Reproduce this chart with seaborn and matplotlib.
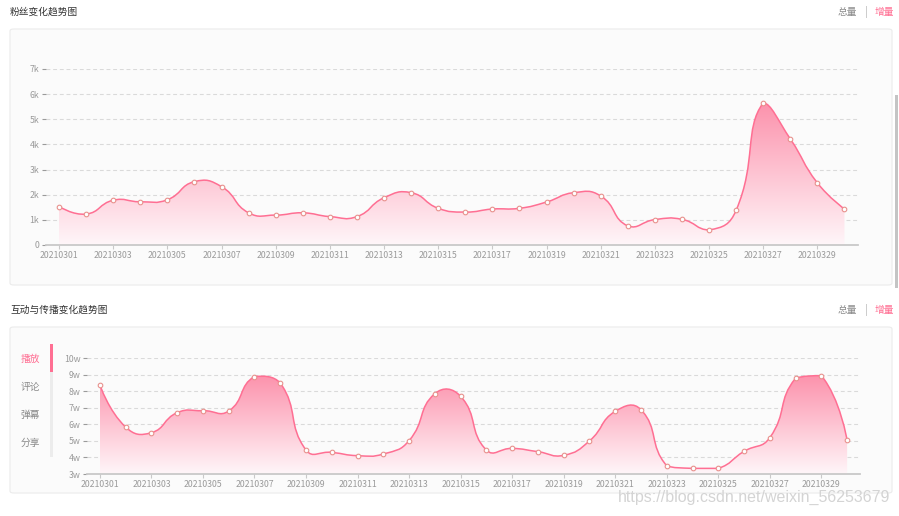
import numpy as np
import pandas as pd
import matplotlib
matplotlib.use("Agg")
import matplotlib.pyplot as plt
import seaborn as sns
from matplotlib.path import Path
from matplotlib.patches import PathPatch, FancyBboxPatch, Rectangle

# ---------------- data ----------------
dates = ["20210301", "20210302", "20210303", "20210304", "20210305", "20210306",
         "20210307", "20210308", "20210309", "20210310", "20210311", "20210312",
         "20210313", "20210314", "20210315", "20210316", "20210317", "20210318",
         "20210319", "20210320", "20210321", "20210322", "20210323", "20210324",
         "20210325", "20210326", "20210327", "20210328", "20210329", "20210330"]

fans = [1530, 1230, 1780, 1720, 1800, 2520, 2320, 1280, 1190, 1280,
        1130, 1130, 1880, 2080, 1460, 1310, 1430, 1460, 1710, 2080,
        1950, 760, 1010, 1020, 600, 1380, 5650, 4220, 2470, 1430]

plays = [83900, 58400, 55000, 67100, 68300, 68100, 88900, 85100, 44500, 43100,
         41100, 42100, 50200, 78600, 77000, 44500, 45500, 43500, 41300, 50000,
         67900, 68900, 35000, 33400, 33400, 43700, 52000, 87900, 89500, 50400]

fans_ticks = [0, 1000, 2000, 3000, 4000, 5000, 6000, 7000]
fans_tick_labels = ["0", "1k", "2k", "3k", "4k", "5k", "6k", "7k"]
plays_ticks = [30000, 40000, 50000, 60000, 70000, 80000, 90000, 100000]
plays_tick_labels = ["3w", "4w", "5w", "6w", "7w", "8w", "9w", "10w"]

tabs = ["播放", "评论", "弹幕", "分享"]

# ---------------- style ----------------
sns.set_theme(style="white")
plt.rcParams["font.family"] = ["Noto Sans CJK SC", "DejaVu Sans"]

W, H = 899, 516
fig = plt.figure(figsize=(W / 100, H / 100), dpi=100)
fig.patch.set_facecolor("white")

PINK = "#ff6f93"
GRAY_TXT = "#9a9a9a"
GRID = "#dadada"
AXIS = "#c9c9c9"


def fx(x):
    return x / W


def fy(y):
    return 1 - y / H


def panel(x0, y0, x1, y1):
    p = FancyBboxPatch((fx(x0), fy(y1)), fx(x1) - fx(x0), fy(y0) - fy(y1),
                       boxstyle="round,pad=0,rounding_size=0.004",
                       transform=fig.transFigure, facecolor="#fbfbfb",
                       edgecolor="#ebebeb", linewidth=0.8, zorder=-10)
    fig.patches.append(p)


def header(title, y):
    fig.text(fx(10), fy(y), title, fontsize=7, color="#333333", va="center", ha="left")
    fig.text(fx(857), fy(y), "总量", fontsize=7, color="#8a8a8a", va="center", ha="right")
    fig.text(fx(866), fy(y), "|", fontsize=7, color="#b0b0b0", va="center", ha="center")
    fig.text(fx(875), fy(y), "增量", fontsize=7, color=PINK, va="center", ha="left")


def smooth_path(ax, xs, ys, smooth=0.5):
    """Bezier smoothing, control points constrained to the points' bounding box."""
    pts = ax.transData.transform(np.column_stack([xs, ys]))
    lo = pts.min(axis=0)
    hi = pts.max(axis=0)
    n = len(pts)
    verts = [pts[0]]
    codes = [Path.MOVETO]
    cp0 = pts[0].copy()
    for i in range(1, n):
        cur = pts[i]
        prev = pts[i - 1]
        if i == n - 1:
            cp1 = cur.copy()
            v = np.zeros(2)
            r = 0.5
        else:
            nxt = pts[i + 1]
            v = nxt - prev
            lp = np.hypot(*(cur - prev))
            ln = np.hypot(*(nxt - cur))
            r = ln / (ln + lp)
            cp1 = cur - v * smooth * (1 - r)
        cp0c = np.clip(cp0, lo, hi)
        cp1c = np.clip(cp1, lo, hi)
        verts += [cp0c, cp1c, cur]
        codes += [Path.CURVE4] * 3
        cp0 = cur + v * smooth * r
    inv = ax.transData.inverted()
    verts = inv.transform(np.array(verts))
    return verts, codes


def chart(ax, values, yticks, ylabels, ylim):
    xs = np.arange(len(dates))
    ax.set_xlim(-0.5, len(dates) - 0.5)
    ax.set_ylim(*ylim)
    ax.set_facecolor("none")
    for s in ["top", "right", "left"]:
        ax.spines[s].set_visible(False)
    ax.spines["bottom"].set_color(AXIS)
    ax.spines["bottom"].set_linewidth(1.3)

    for t in yticks[1:]:
        ax.axhline(t, color=GRID, lw=0.8, ls=(0, (3.5, 2.5)), zorder=0.5)

    verts, codes = smooth_path(ax, xs, values)
    base = ylim[0]
    top = verts[:, 1].max()
    fill_verts = np.vstack([verts, [[xs[-1], base], [xs[0], base], [xs[0], base]]])
    fill_codes = codes + [Path.LINETO, Path.LINETO, Path.CLOSEPOLY]
    clip = PathPatch(Path(fill_verts, fill_codes), transform=ax.transData,
                     facecolor="none", edgecolor="none")
    ax.add_patch(clip)

    c_top = np.array([252, 146, 172]) / 255
    c_bot = np.array([255, 246, 249]) / 255
    t = np.linspace(0, 1, 256)[:, None]
    grad = (c_bot[None, :] * (1 - t) + c_top[None, :] * t)[:, None, :]
    im = ax.imshow(grad, extent=[xs[0], xs[-1], base, top], origin="lower",
                   aspect="auto", zorder=1, interpolation="bilinear")
    im.set_clip_path(clip)

    ax.add_patch(PathPatch(Path(verts, codes), facecolor="none", edgecolor=PINK,
                           lw=1.1, zorder=2))

    df = pd.DataFrame({"x": xs, "y": values})
    sns.scatterplot(data=df, x="x", y="y", ax=ax, s=11, color="white",
                    edgecolor="#e8918d", linewidth=0.8, zorder=3)

    ax.set_xlim(-0.5, len(dates) - 0.5)
    ax.set_ylim(*ylim)
    ax.set_xlabel("")
    ax.set_ylabel("")
    ax.set_yticks(yticks)
    ax.set_yticklabels(ylabels)
    ax.set_xticks(xs[::2])
    ax.set_xticklabels(dates[::2])
    ax.tick_params(axis="y", length=3, width=0.8, color=GRAY_TXT, pad=1.5,
                   labelsize=6.3, labelcolor=GRAY_TXT, left=True)
    ax.tick_params(axis="x", length=3, width=0.8, color=AXIS, pad=1.5,
                   labelsize=6.3, labelcolor=GRAY_TXT, bottom=True)
    ax.grid(False)


# ---------------- top chart ----------------
panel(10, 29, 892, 285)
header("粉丝变化趋势图", 12)
ax1 = fig.add_axes([fx(45.5), fy(245), (858 - 45.5) / W, (245 - 69) / H])
chart(ax1, fans, fans_ticks, fans_tick_labels, (0, 7000))

# scrollbar
fig.patches.append(Rectangle((fx(895), fy(288)), 3 / W, (288 - 95) / H,
                             transform=fig.transFigure, facecolor="#c4c4c4",
                             edgecolor="none", zorder=-5))

# ---------------- bottom chart ----------------
panel(10, 327, 892, 493)
header("互动与传播变化趋势图", 310)
ax2 = fig.add_axes([fx(87), fy(474), (860 - 87) / W, (474 - 358.3) / H])
chart(ax2, plays, plays_ticks, plays_tick_labels, (30000, 100000))

# tab selector
fig.patches.append(Rectangle((fx(50), fy(457)), 2.5 / W, (457 - 372) / H,
                             transform=fig.transFigure, facecolor="#ececec",
                             edgecolor="none", zorder=-5))
fig.patches.append(Rectangle((fx(50), fy(372)), 2.5 / W, (372 - 344) / H,
                             transform=fig.transFigure, facecolor=PINK,
                             edgecolor="none", zorder=-4))
for i, (lab, yy) in enumerate(zip(tabs, [359, 387, 415, 443])):
    fig.text(fx(30), fy(yy), lab, fontsize=7, ha="center", va="center",
             color=PINK if i == 0 else "#8a8a8a")

# watermark
fig.text(fx(890), fy(497), "https://blog.csdn.net/weixin_56253679",
         fontsize=11.5, family=["Liberation Sans", "DejaVu Sans"],
         color="#d4d4d4", ha="right", va="center")

fig.savefig("out.png", dpi=100, facecolor="white")
